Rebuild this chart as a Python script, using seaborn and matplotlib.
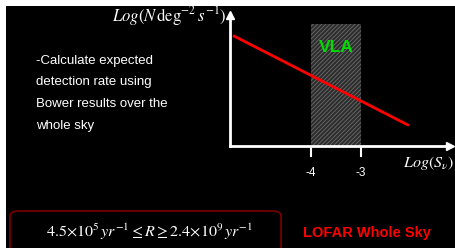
import matplotlib
matplotlib.use("Agg")
import matplotlib.pyplot as plt
import seaborn as sns
import pandas as pd
from matplotlib.patches import FancyBboxPatch

# ---- data ----
flux_ticks = [-4, -3]
flux_tick_labels = ["-4", "-3"]
line_logS = [-5.54, -2.06]
line_logN = [2.20, 0.42]
vla_band = [-4.0, -3.0]
vla_top = 2.45
bullet_lines = ["-Calculate expected", "detection rate using",
                "Bower results over the", "whole sky"]

sns.set_theme(style="dark")
plt.rcParams["font.family"] = ["Liberation Sans", "DejaVu Sans"]
plt.rcParams["mathtext.fontset"] = "stix"
plt.rcParams["hatch.linewidth"] = 0.6

W, H = 456, 248
fig = plt.figure(figsize=(W / 100, H / 100), dpi=100, facecolor="white")

# black slide background with thin white strip at top and left
bg = fig.add_axes([6 / W, 0, 1 - 6 / W, (H - 6) / H], zorder=-5)
bg.set_facecolor("black")
bg.set_xticks([]); bg.set_yticks([])
for s in bg.spines.values():
    s.set_visible(False)

# chart axes
x0, x1 = 230, 450
ytop, ybot = 15, 146
ax = fig.add_axes([x0 / W, (H - ybot) / H, (x1 - x0) / W, (ybot - ytop) / H])
ax.patch.set_alpha(0)
ax.set_xlim(-4 - (311 - x0) / 50, -4 + (x1 - 311) / 50)
ax.set_ylim(0, (ybot - ytop) / 50)

# VLA band
ax.fill_between(vla_band, 0, vla_top, facecolor="#2c2c2c", edgecolor="#6e6e6e",
                hatch="////////", linewidth=0, zorder=1)
ax.text(sum(vla_band) / 2, vla_top - 0.49, "VLA", color="#00dd00",
        fontsize=12.5, fontweight="bold", ha="center", va="center", zorder=3)

df = pd.DataFrame({"logS": line_logS, "logN": line_logN})
sns.lineplot(data=df, x="logS", y="logN", ax=ax, color="#ff0000",
             linewidth=2, zorder=4)

for s in ["top", "right"]:
    ax.spines[s].set_visible(False)
for s in ["left", "bottom"]:
    ax.spines[s].set_visible(True)
    ax.spines[s].set_color("white")
    ax.spines[s].set_linewidth(2)
ax.plot(1, 0, ">", color="white", markersize=6, transform=ax.transAxes, clip_on=False)
ax.plot(0, 1, "^", color="white", markersize=6, transform=ax.transAxes, clip_on=False)

ax.set_xticks(flux_ticks)
ax.set_xticklabels(flux_tick_labels)
ax.set_yticks([])
ax.tick_params(axis="x", colors="white", direction="out", length=8, width=1.5,
               labelsize=8.5, pad=7, bottom=True)
ax.set_xlabel(""); ax.set_ylabel("")

# axis labels
fig.text(403 / W, 1 - 163 / H, r"$Log(S_\nu)$", color="white", fontsize=11.5,
         ha="left", va="center")
fig.text(226 / W, 1 - 16 / H, r"$Log(N\,\mathrm{deg}^{-2}\,s^{-1})$", color="white",
         fontsize=12, ha="right", va="center")

# bullet text
for i, t in enumerate(bullet_lines):
    fig.text(36 / W, 1 - (61 + i * 21.5) / H, t, color="white", fontsize=9.5,
             ha="left", va="center")

# rate box
box = FancyBboxPatch((10 / W, -20 / H), 271 / W, (20 + 248 - 211) / H,
                     boxstyle="round,pad=0,rounding_size=0.02",
                     transform=fig.transFigure, facecolor="none",
                     edgecolor="#7a0000", linewidth=1.2)
fig.patches.append(box)
fig.text(150 / W, 1 - 232 / H,
         r"$4.5{\times}10^5\,yr^{-1} \leq R \geq 2.4{\times}10^9\,yr^{-1}$",
         color="white", fontsize=11.5, ha="center", va="center")
fig.text(367 / W, 1 - 233 / H, "LOFAR Whole Sky", color="#ff0000",
         fontsize=10.5, fontweight="bold", ha="center", va="center")

fig.savefig("out.png", dpi=100, facecolor=fig.get_facecolor())
